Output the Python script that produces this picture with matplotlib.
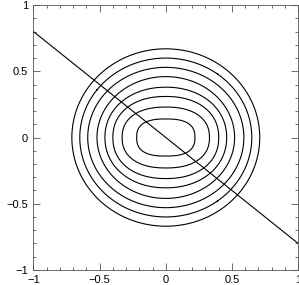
import numpy as np
import matplotlib
matplotlib.use("Agg")
import matplotlib.pyplot as plt
from matplotlib.ticker import MultipleLocator

# contour semi-axes (x, y), inner to outer
rx = [0.22, 0.33, 0.40, 0.46, 0.52, 0.59, 0.65, 0.71]
ry = [0.14, 0.23, 0.31, 0.38, 0.46, 0.53, 0.60, 0.67]
shape_p = [2.6, 2.3, 2.2, 2.1, 2.0, 2.0, 2.0, 2.0]

# straight line
line_x = [-1.0, 1.0]
line_y = [0.8, -0.8]

tick_vals = [-1, -0.5, 0, 0.5, 1]
tick_labels = ["\u22121", "\u22120.5", "0", "0.5", "1"]

plt.rcParams['font.family'] = ['Liberation Sans', 'DejaVu Sans']
fig = plt.figure(figsize=(2.99, 2.85), dpi=100)
ax = fig.add_axes([0.112, 0.053, 0.885, 0.929])

g = np.linspace(-1, 1, 401)
X, Y = np.meshgrid(g, g)
for a, b, p in zip(rx, ry, shape_p):
    F = np.abs(X / a) ** p + np.abs(Y / b) ** p
    ax.contour(X, Y, F, levels=[1.0], colors='black', linewidths=0.8)

ax.plot(line_x, line_y, color='black', linewidth=0.8)

ax.set_xlim(-1, 1)
ax.set_ylim(-1, 1)
ax.set_xticks(tick_vals)
ax.set_xticklabels(tick_labels)
ax.set_yticks(tick_vals)
ax.set_yticklabels(tick_labels)
ax.xaxis.set_minor_locator(MultipleLocator(0.1))
ax.yaxis.set_minor_locator(MultipleLocator(0.1))
ax.tick_params(which='both', direction='in', top=True, right=True, labelsize=8, width=0.6, color='#555555')
ax.tick_params(which='major', length=5, pad=4)
ax.tick_params(which='minor', length=2.5)
for s in ax.spines.values():
    s.set_linewidth(0.6)
    s.set_color('#555555')
ax.set_ylabel('y', fontsize=8, labelpad=4)

fig.savefig('out.png', dpi=100)
